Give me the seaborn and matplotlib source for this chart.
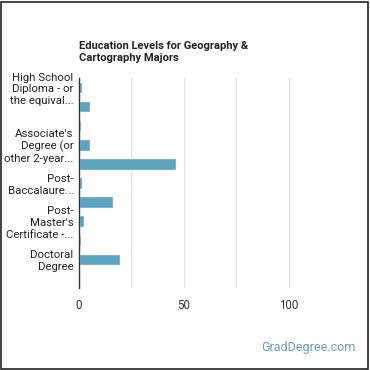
from matplotlib import pyplot as plt
from matplotlib.patches import Rectangle
import seaborn as sns
import pandas as pd

# Education levels (top to bottom) and share of workers (%)
levels = [
    "High School Diploma", "Post-Secondary Certificate", "Some College Courses",
    "Associate's Degree", "Bachelor's Degree", "Post-Baccalaureate Certificate",
    "Master's Degree", "Post-Master's Certificate", "First Professional Degree",
    "Doctoral Degree", "Post-Doctoral Training",
]
shares = [1.3, 5.2, 1.0, 5.1, 46.2, 1.3, 16.0, 2.4, 0.8, 19.5, 0.5]

# Only some tick labels are drawn in the original (others overlap and are hidden)
tick_labels = [
    "High School\nDiploma - or\nthe equival...", "", "",
    "Associate's\nDegree (or\nother 2-year...", "",
    "Post-\nBaccalaure...", "",
    "Post-\nMaster's\nCertificate -...", "",
    "Doctoral\nDegree", "",
]
x_ticks = [0, 25, 50, 75, 100, 125]
x_tick_labels = ["0", "", "50", "", "100", ""]


def main():
    sns.set_style("white")
    plt.rcParams['font.family'] = ['Roboto', 'DejaVu Sans']

    df = pd.DataFrame({'level': levels, 'share': shares})

    fig = plt.figure(figsize=(3.7, 3.7), dpi=100)
    ax = fig.add_axes([0.2135, 0.2216, 0.708, 0.5675])

    sns.barplot(data=df, y='level', x='share', orient='h', color='#5BA4C0',
                saturation=1, width=0.6, ax=ax)

    ax.set_xlim(0, 125)
    ax.set_xticks(x_ticks)
    ax.set_xticklabels(x_tick_labels, fontsize=8.3, color='#333333')
    ax.set_yticks(range(len(levels)))
    ax.set_yticklabels(tick_labels, fontsize=8.2, color='#222222', linespacing=1.2)
    ax.set_xlabel('')
    ax.set_ylabel('')
    ax.tick_params(axis='both', length=0, pad=4)
    ax.tick_params(axis='x', pad=8)
    ax.grid(axis='x', color='#e3e3e3', linewidth=0.8)
    ax.set_axisbelow(True)
    for side in ['top', 'right', 'bottom']:
        ax.spines[side].set_visible(False)
    ax.spines['left'].set_color('#333333')
    ax.spines['left'].set_linewidth(1.0)

    fig.text(0.2135, 0.89, 'Education Levels for Geography &\nCartography Majors',
             fontsize=8, fontweight='bold', color='#222222', ha='left', va='top',
             linespacing=1.25)
    fig.text(0.96, 0.06, 'GradDegree.com', fontsize=9, color='#6D9FB7',
             ha='right', va='center')

    fig.patches.append(Rectangle((0.003, 0.003), 0.992, 0.992, transform=fig.transFigure,
                                 fill=False, edgecolor='#222222', linewidth=1.2))

    plt.savefig('out.png', dpi=100)
    plt.clf()


if __name__ == "__main__":
    main()
